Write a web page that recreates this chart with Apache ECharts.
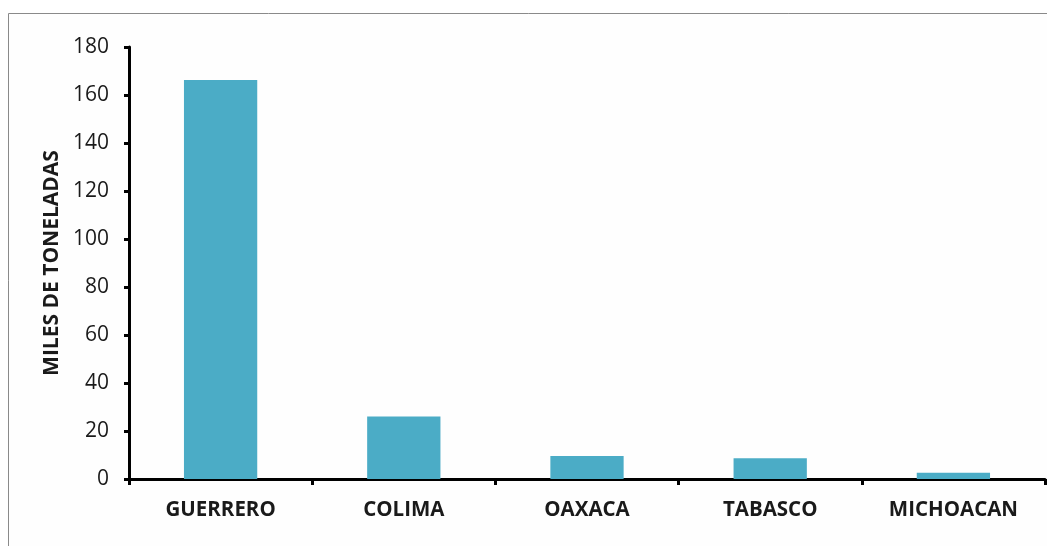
<!DOCTYPE html>
<html>
<head>
<meta charset="utf-8">
<script src="https://cdn.jsdelivr.net/npm/echarts@6/dist/echarts.min.js"></script>
<style>
html,body{margin:0;padding:0;background:#ffffff;}
#chart{width:1047px;height:546px;}
</style>
</head>
<body>
<div id="chart"></div>
<script>
const categories = ['GUERRERO', 'COLIMA', 'OAXACA', 'TABASCO', 'MICHOACAN'];
const values = [166.2, 26, 9.6, 8.6, 2.6];
const yAxisTitle = 'MILES DE TONELADAS';

const chart = echarts.init(document.getElementById('chart'));
chart.setOption({
  animation: false,
  backgroundColor: '#ffffff',
  graphic: [{
    type: 'rect',
    shape: { x: 8.5, y: 13.5, width: 1200, height: 700 },
    style: { fill: '#fefefe', stroke: '#8a8a8a', lineWidth: 1 },
    z: -10, silent: true
  }],
  grid: { left: 129, right: 2, top: 47, bottom: 67 },
  xAxis: {
    type: 'category',
    data: categories,
    axisLine: { show: true, lineStyle: { color: '#000', width: 3 } },
    axisTick: { show: true, alignWithLabel: false, length: 6, lineStyle: { color: '#000', width: 3 } },
    axisLabel: { color: '#1a1a1a', fontFamily: 'Open Sans', fontWeight: 'bold', fontSize: 20.5, margin: 21 },
    splitLine: { show: false }
  },
  yAxis: {
    type: 'value',
    min: 0, max: 180, interval: 20,
    name: yAxisTitle,
    nameLocation: 'middle',
    nameGap: 64,
    nameRotate: 90,
    nameTextStyle: { color: '#1a1a1a', fontFamily: 'Open Sans', fontWeight: 'bold', fontSize: 21 },
    axisLine: { show: true, lineStyle: { color: '#000', width: 3 } },
    axisTick: { show: true, length: 5, lineStyle: { color: '#000', width: 3 } },
    axisLabel: { color: '#1a1a1a', fontFamily: 'Open Sans', fontSize: 21, margin: 20 },
    splitLine: { show: false }
  },
  series: [{
    type: 'bar',
    data: values,
    barWidth: '40%',
    itemStyle: { color: '#4BACC6' }
  }]
});
</script>
</body>
</html>
